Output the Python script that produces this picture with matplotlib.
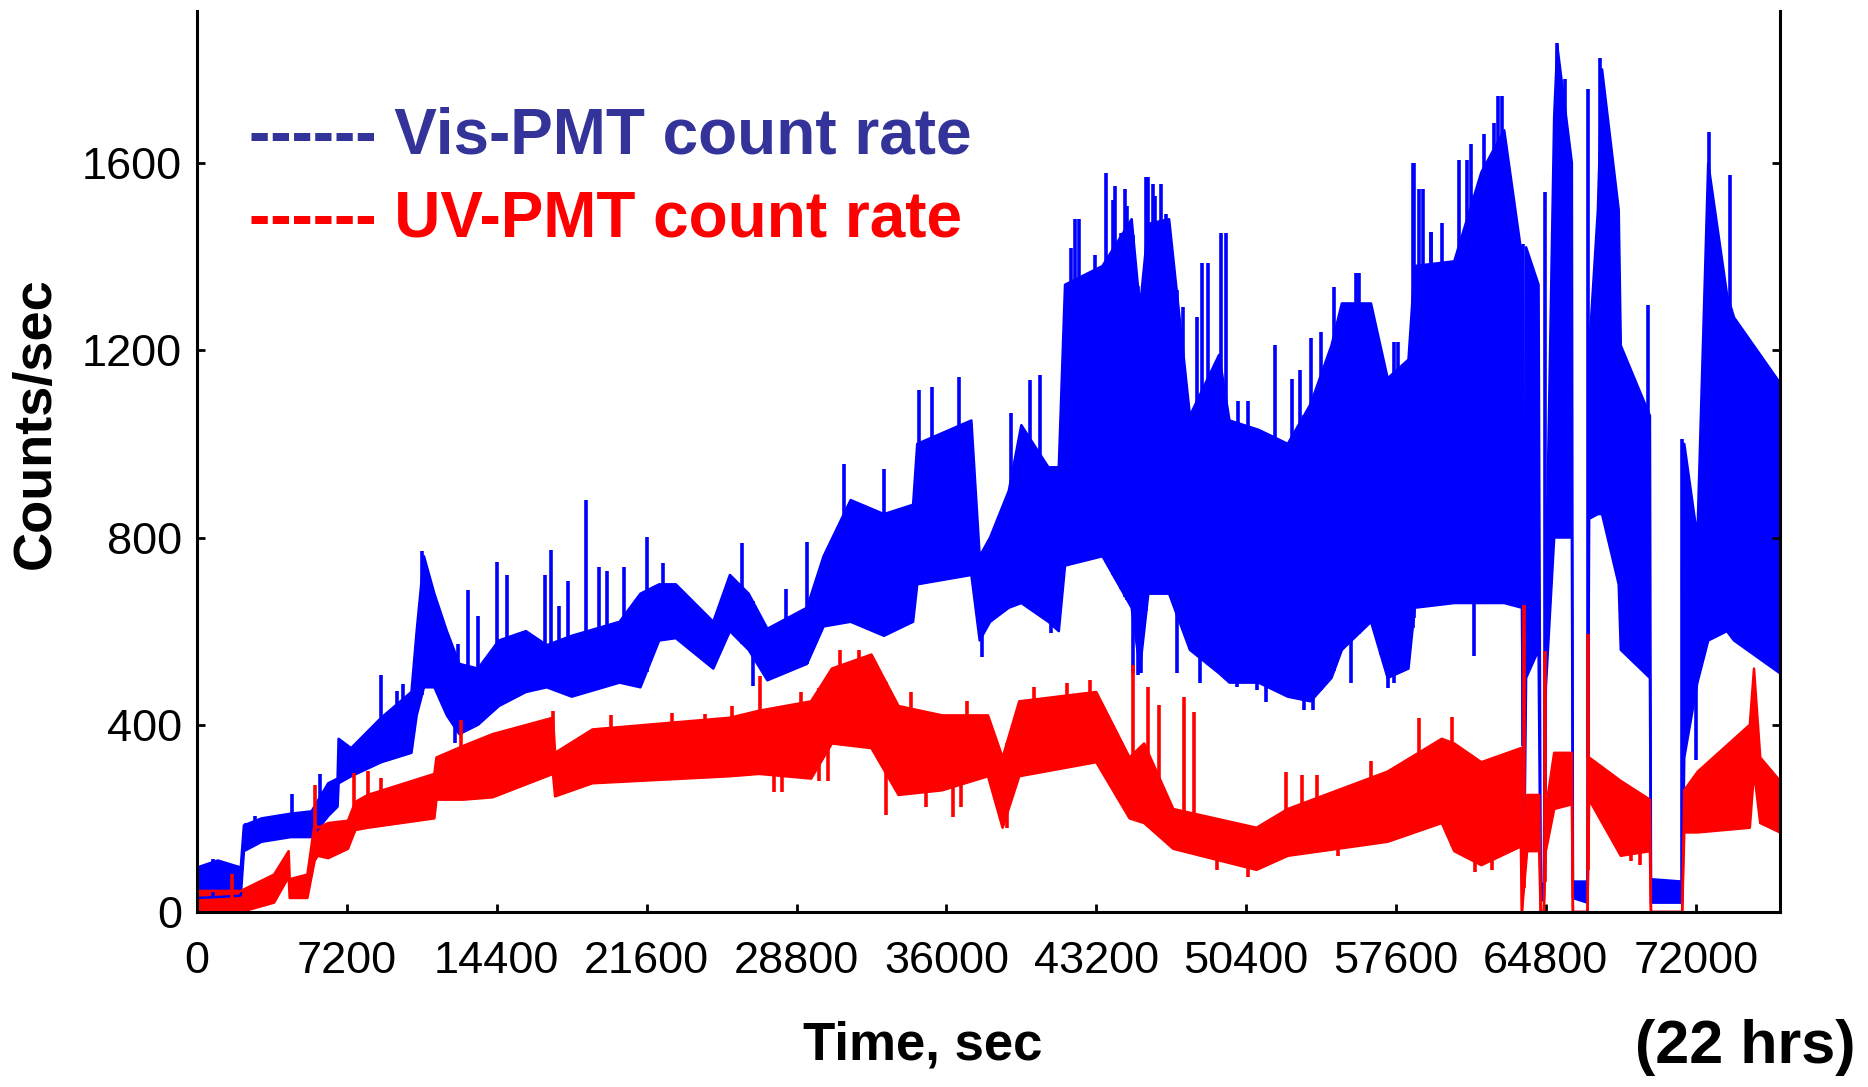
import numpy as np
import matplotlib
matplotlib.use("Agg")
import matplotlib.pyplot as plt

plt.rcParams["font.family"] = ["Liberation Sans", "DejaVu Sans"]

# Vis-PMT count rate: time knots with lower / upper edge of the noisy band
vis_t = [0, 1000, 2100, 2250, 3100, 4500, 5500, 6300, 6750, 6800, 7400, 8850,
         10300, 10550, 10900, 11400, 12000, 12600, 13500, 14500, 15800, 16800,
         18000, 20300, 21300, 22200, 23000, 24800, 25600, 26500, 27400, 29300,
         30100, 31400, 33000, 34400, 34600, 37200, 37600, 38100, 39000, 39600,
         40900, 41400, 41700, 43500, 44900, 45300, 45700, 46700, 47700, 49100,
         49600, 51000, 52400, 53500, 54500, 55000, 56400, 57200, 58200, 58500,
         60400, 61700, 62800, 63650, 63750, 63850, 64450, 64550, 64700, 64800,
         65200, 65350, 66050, 66100, 66800, 66880, 67300, 67500, 68300, 68400,
         69800, 69850, 71350, 71450, 72080, 72600, 73500, 73840, 76050]
vis_lo = [30, 32, 35, 130, 150, 160, 160, 205, 225, 275, 290, 320,
          340, 420, 480, 480, 420, 380, 400, 440, 470, 480,
          460, 490, 480, 580, 585, 520, 600, 560, 495, 530,
          610, 620, 590, 620, 700, 720, 580, 620, 650, 660,
          620, 600, 740, 760, 650, 520, 680, 680, 560, 510,
          490, 490, 460, 450, 500, 560, 620, 500, 520, 650,
          660, 660, 660, 650, 60, 500, 560, 25, 25, 480,
          800, 800, 800, 30, 20, 840, 850, 850, 700, 560,
          500, 20, 20, 330, 490, 580, 600, 580, 510]
vis_hi = [95, 110, 95, 185, 200, 210, 215, 275, 285, 370, 350, 415,
          470, 600, 760, 680, 600, 530, 520, 580, 600, 570,
          590, 620, 680, 700, 700, 620, 720, 680, 605, 650,
          760, 880, 850, 870, 1000, 1050, 760, 800, 900, 1040,
          950, 950, 1340, 1380, 1480, 1290, 1470, 1480, 1060, 1190,
          1050, 1030, 1000, 1085, 1210, 1300, 1300, 1140, 1180, 1380,
          1390, 1580, 1670, 1400, 450, 1420, 1340, 60, 60, 680,
          1700, 1850, 1600, 65, 65, 1200, 1500, 1800, 1500, 1210,
          1060, 70, 65, 1000, 800, 1600, 1320, 1270, 1130]
vis_spike_t = [750, 2350, 2800, 4550, 5900, 8850, 9600, 9900, 10800, 12540,
               13000, 13500, 14400, 14900, 16700, 17000, 17400, 17800, 18700,
               19300, 19700, 20500, 21600, 22400, 26200, 28300, 29300, 31100,
               33000, 34700, 35300, 36600, 39100, 40000, 40500, 42000, 42200,
               42360, 42800, 43120, 43650, 44000, 44080, 44400, 44600, 44700,
               45610, 45700, 45930, 46000, 46290, 46570, 47350, 48020, 48300,
               48580, 49200, 49430, 50030, 50480, 51800, 52580, 53000, 53510,
               53990, 54630, 55120, 55680, 55800, 56320, 56880, 57500, 57680,
               58400, 58450, 58700, 58880, 59280, 59300, 59800, 60650, 61000,
               61210, 61850, 62330, 62500, 62700, 63210, 63700, 64750, 65330,
               65700, 66830, 67400, 69700, 71360, 72640, 73630]
vis_spike_v = [114, 191, 206, 251, 294, 506, 473, 488, 771, 572,
               687, 632, 747, 720, 720, 774, 653, 708, 881,
               737, 729, 736, 801, 746, 789, 690, 791, 956,
               946, 1115, 1122, 1143, 1065, 1136, 1147, 1418, 1480,
               1480, 1345, 1403, 1579, 1520, 1550, 1450, 1545, 1508,
               1571, 1571, 1556, 1530, 1556, 1492, 1292, 1271, 1387,
               1387, 1450, 1450, 1091, 1091, 1211, 1139, 1157, 1226,
               1240, 1335, 1283, 1364, 1364, 1283, 1134, 1217, 1217,
               1600, 1600, 1545, 1545, 1453, 1453, 1471, 1606, 1606,
               1640, 1663, 1686, 1744, 1744, 1456, 1427, 1537, 1856,
               1780, 1758, 1825, 1296, 1010, 1666, 1574]
vis_dip_t = [12400, 26700, 37700, 41030, 44970, 45200, 45370, 47060, 48180,
             49950, 50910, 51350, 53190, 53600, 55440, 57200, 57520, 61370,
             72000]
vis_dip_v = [360, 482, 544, 596, 511, 506, 511, 511, 490,
             480, 475, 449, 432, 432, 489, 478, 489, 547,
             325]

# UV-PMT count rate
uv_t = [0, 2100, 3700, 4400, 4450, 5300, 5650, 5800, 6300, 7250, 7600, 8200,
        11400, 11500, 12800, 14200, 17100, 17200, 19000, 25600, 27000, 29500,
        30500, 32400, 33700, 35800, 38000, 38700, 39500, 43200, 44800, 45500,
        46900, 50900, 52400, 57200, 59800, 60400, 61700, 63600, 63650, 63900,
        64480, 64550, 64700, 64800, 65200, 66050, 66100, 66800, 66880, 68400,
        69800, 69850, 71350, 71450, 72100, 74600, 74800, 75100, 76050]
uv_lo = [0, 0, 20, 75, 30, 30, 110, 120, 115, 135, 175, 180,
         200, 240, 240, 245, 295, 247, 275, 290, 295, 285,
         360, 350, 250, 260, 290, 180, 290, 320, 200, 190,
         135, 90, 120, 150, 190, 130, 100, 140, 0, 130,
         130, 0, 0, 130, 220, 230, 0, 0, 240, 120,
         130, 0, 0, 170, 170, 180, 300, 190, 170]
uv_hi = [45, 45, 80, 130, 70, 80, 190, 180, 190, 195, 235, 250,
         295, 330, 355, 380, 415, 340, 390, 415, 430, 450,
         520, 550, 440, 420, 420, 330, 450, 470, 330, 360,
         220, 180, 220, 300, 370, 360, 320, 350, 0, 250,
         250, 0, 0, 220, 340, 340, 0, 0, 330, 280,
         240, 0, 0, 260, 300, 400, 520, 330, 280]
uv_spike_t = [1700, 5680, 7540, 8200, 8850, 10500, 12700, 17100, 19900, 21300,
              22800, 24400, 25700, 27040, 29000, 30900, 31800, 34300, 37000,
              40200, 41800, 42900, 44970, 45700, 46200, 47400, 47900, 52300,
              53100, 53800, 56400, 58700, 60300, 63750, 64750, 66830]
uv_spike_v = [81, 272, 297, 301, 286, 283, 411, 429, 420, 400,
              425, 423, 440, 505, 470, 560, 560, 470, 450,
              480, 490, 495, 527, 480, 443, 459, 427, 299,
              293, 293, 322, 414, 416, 655, 557, 594]
uv_dip_t = [27700, 28100, 29900, 30300, 33100, 35000, 36300, 36700, 38900,
            49000, 50500, 54800, 61400, 62200, 68900, 69300]
uv_dip_v = [257, 257, 280, 280, 207, 225, 202, 225, 179,
            90, 75, 120, 85, 90, 110, 100]

x_ticks = [0, 7200, 14400, 21600, 28800, 36000, 43200, 50400, 57600, 64800, 72000]
y_ticks = [0, 400, 800, 1200, 1600]


def draw_band(ax, t, lo, hi, st, sv, dt, dv, color):
    ax.fill_between(t, lo, hi, color=color, lw=0)
    ax.plot(t, lo, color=color, lw=1.8)
    ax.plot(t, hi, color=color, lw=1.8)
    ax.vlines(st, np.interp(st, t, lo), sv, color=color, lw=2.6)
    ax.vlines(dt, dv, np.interp(dt, t, hi), color=color, lw=2.6)


fig = plt.figure(figsize=(18.68, 10.87), dpi=100)
ax = fig.add_axes([0.1055, 0.161, 0.8474, 0.829])

draw_band(ax, vis_t, vis_lo, vis_hi, vis_spike_t, vis_spike_v,
          vis_dip_t, vis_dip_v, "#0000ff")
draw_band(ax, uv_t, uv_lo, uv_hi, uv_spike_t, uv_spike_v,
          uv_dip_t, uv_dip_v, "#ff0000")

ax.set_xlim(0, 76050)
ax.set_ylim(0, 1925)
ax.set_xticks(x_ticks)
ax.set_yticks(y_ticks)
ax.spines["top"].set_visible(False)
for s in ["left", "bottom", "right"]:
    ax.spines[s].set_linewidth(2.2)
ax.tick_params(axis="both", direction="in", length=6, width=2, labelsize=32.5)
ax.tick_params(axis="x", pad=21)
ax.tick_params(axis="y", pad=11, right=True)

# legend written as text lines
ax.text(0.033, 0.861, "------ Vis-PMT count rate", transform=ax.transAxes,
        color="#333399", fontsize=46, fontweight="bold", va="center")
ax.text(0.033, 0.768, "------ UV-PMT count rate", transform=ax.transAxes,
        color="#ff0000", fontsize=46, fontweight="bold", va="center")

fig.text(923 / 1868, 1 - 1045 / 1087, "Time, sec", fontsize=38,
         fontweight="bold", ha="center", va="center")
fig.text(1745 / 1868, 1 - 1047 / 1087, "(22 hrs)", fontsize=44,
         fontweight="bold", ha="center", va="center")
fig.text(36 / 1868, 1 - 423 / 1087, "Counts/sec", fontsize=39,
         fontweight="bold", ha="center", va="center", rotation=90)

fig.savefig("out.png", dpi=100)
